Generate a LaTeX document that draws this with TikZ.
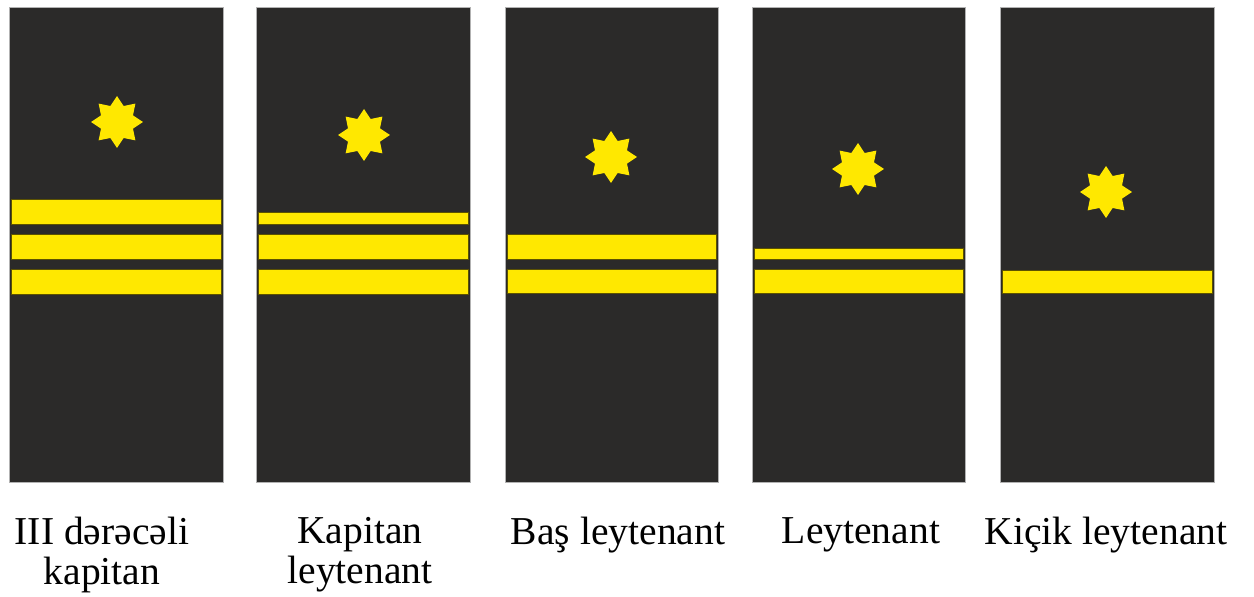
\documentclass[tikz,border=0pt]{standalone}
\usepackage{fontspec}
\setmainfont{Liberation Serif}
\usetikzlibrary{shapes.geometric}
\definecolor{boardgray}{HTML}{2B2A29}
\definecolor{braidyellow}{HTML}{FFE800}
\definecolor{braidedge}{HTML}{5C5200}
\tikzset{
  board/.style={fill=boardgray, draw=gray!60, line width=0.3pt},
  braid/.style={fill=braidyellow, draw=braidedge, line width=0.5pt},
  rankstar/.style={star, star points=8, star point ratio=1.5, minimum size=1.04cm,
    inner sep=0pt, fill=braidyellow},
  rankname/.style={anchor=north, inner sep=0pt, align=center,
    font=\fontsize{22.5}{22.5}\selectfont}
}
\begin{document}
\begin{tikzpicture}[x=0.02cm,y=-0.02cm]
\useasboundingbox (0,0) rectangle (1254,597);

% shoulder boards
\path[board] (9,7) rectangle (223,482);
\path[board] (256,7) rectangle (470,482);
\path[board] (505,7) rectangle (718,482);
\path[board] (752,7) rectangle (965,482);
\path[board] (1000,7) rectangle (1214,482);

% III d\"ar\"ac\"ali kapitan
\path[braid] (11,199) rectangle (221,224);
\path[braid] (11,234) rectangle (221,259);
\path[braid] (11,269) rectangle (221,294);
\node[rankstar] (s1) at (117,122) {};

% kapitan leytenant
\path[braid] (258,212) rectangle (468,224);
\path[braid] (258,234) rectangle (468,259);
\path[braid] (258,269) rectangle (468,294);
\node[rankstar] (s2) at (364,135) {};

% bas leytenant
\path[braid] (507,234) rectangle (716,259);
\path[braid] (507,269) rectangle (716,293);
\node[rankstar] (s3) at (611,157) {};

% leytenant
\path[braid] (754,248) rectangle (963,259);
\path[braid] (754,269) rectangle (963,293);
\node[rankstar] (s4) at (858,169) {};

% kicik leytenant
\path[braid] (1002,270) rectangle (1212,293);
\node[rankstar] (s5) at (1106,192) {};

\node[rankname] (n1) at (102,517) {III dərəcəli\\kapitan};
\node[rankname] (n2) at (360,517) {Kapitan\\leytenant};
\node[rankname] (n3) at (618,517) {Baş leytenant};
\node[rankname] (n4) at (861,517) {Leytenant};
\node[rankname] (n5) at (1106,517) {Kiçik leytenant};
\end{tikzpicture}
\end{document}
